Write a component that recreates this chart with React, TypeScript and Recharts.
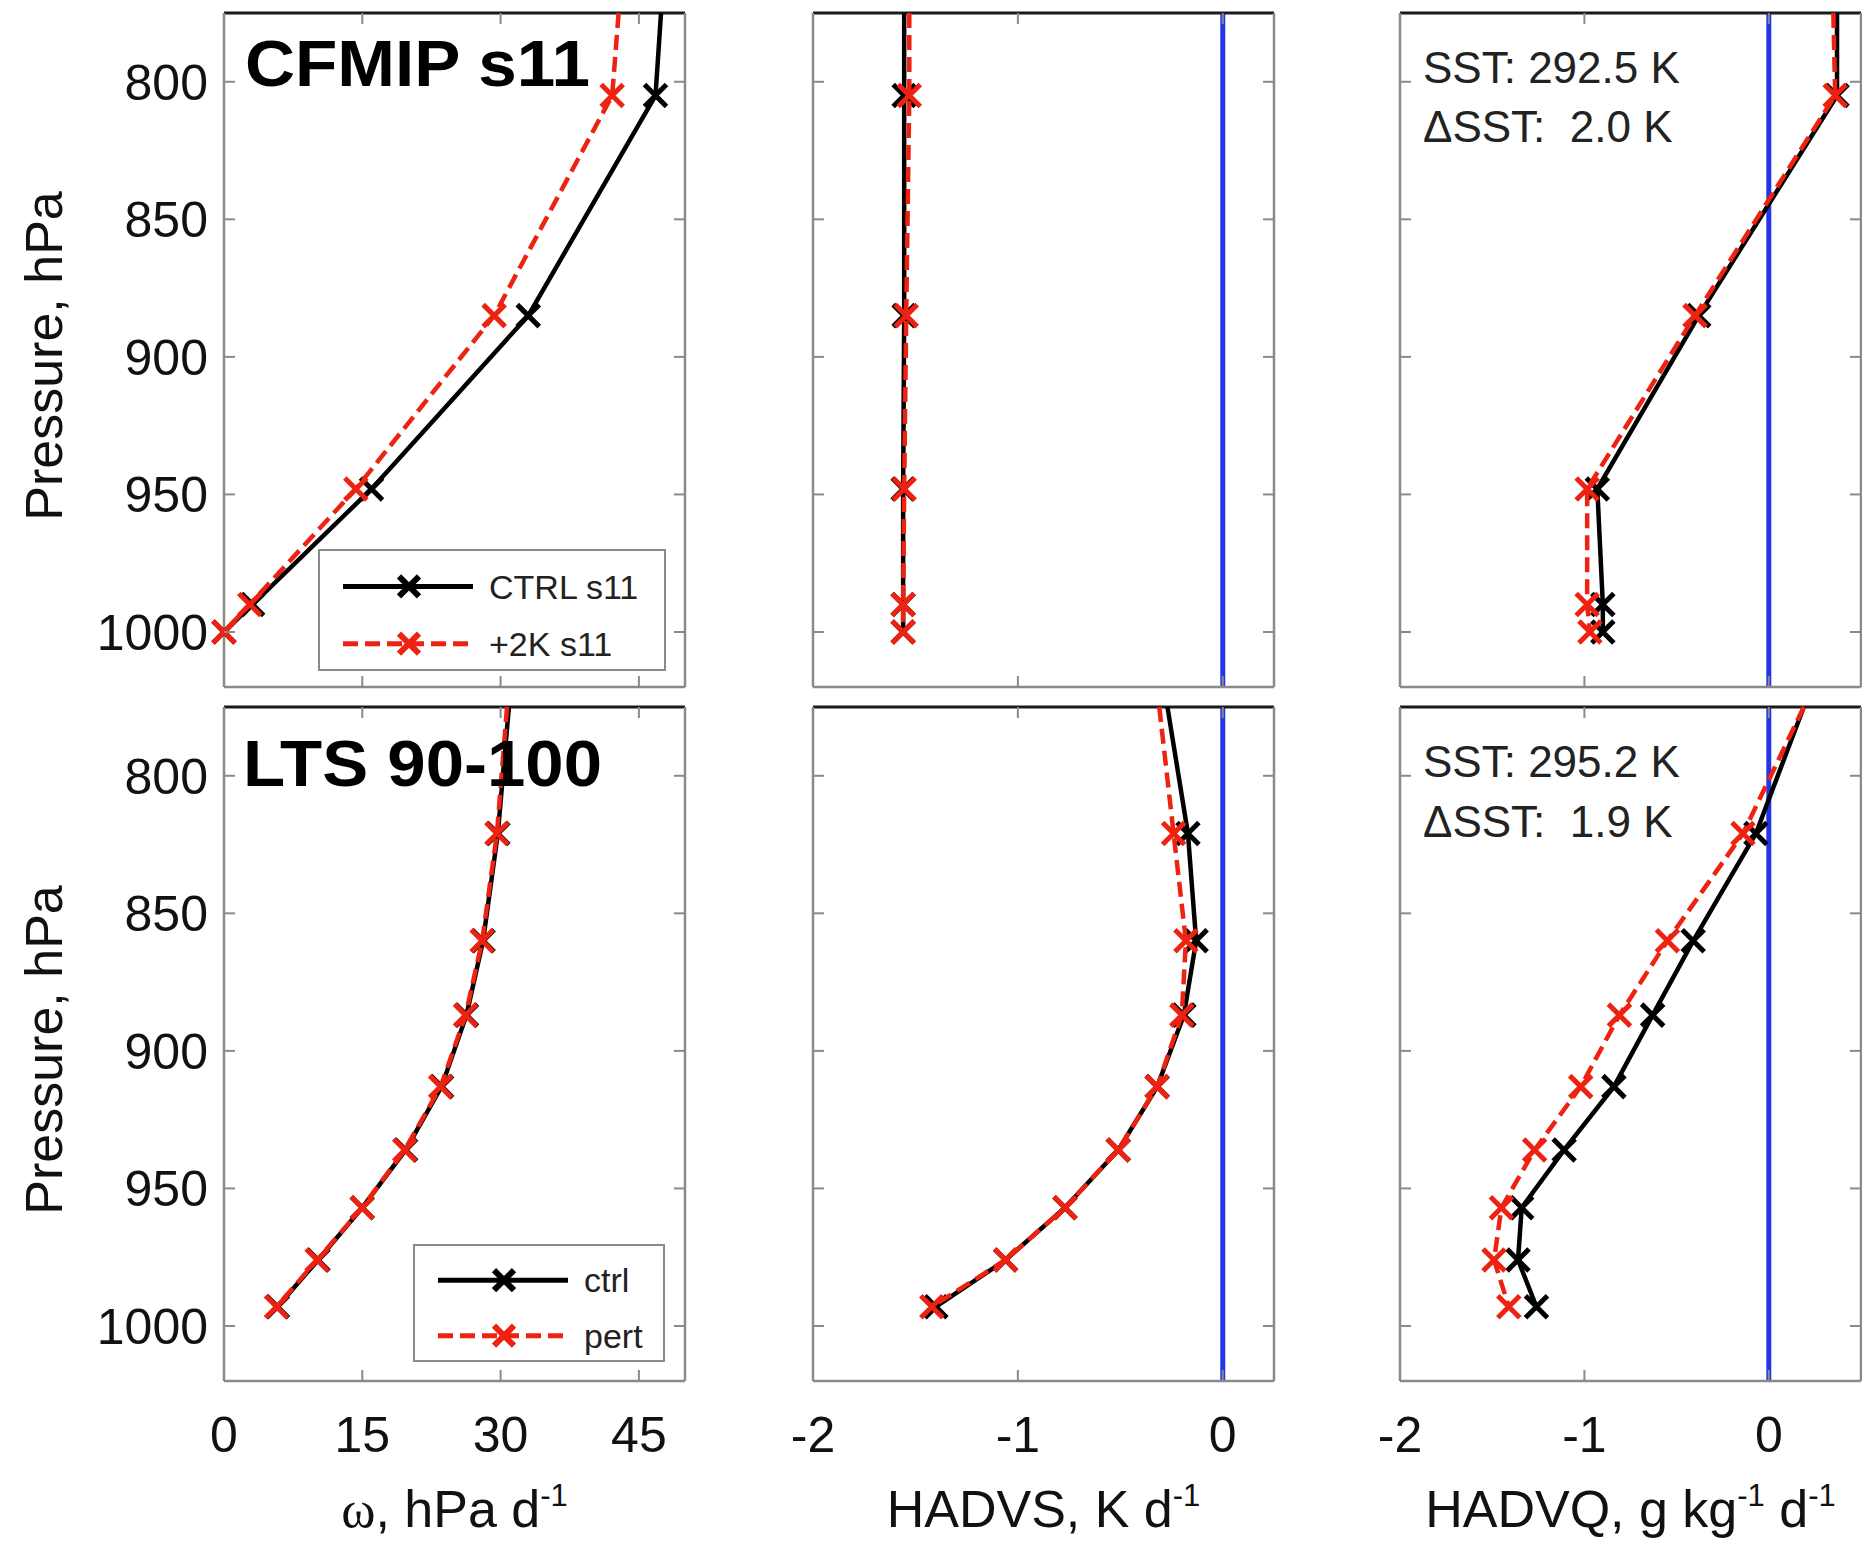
import React from "react";
import { ScatterChart, Scatter, XAxis, YAxis, ReferenceLine, Legend } from "recharts";

/* ── pressure axis (shared by all panels) ── */
const PRESSURE_DOMAIN: [number, number] = [775, 1020];
const PRESSURE_TICKS = [800, 850, 900, 950, 1000];

const OMEGA_DOMAIN: [number, number] = [0, 50];
const OMEGA_TICKS = [0, 15, 30, 45];
const HADVS_DOMAIN: [number, number] = [-2, 0.25];
const HADVQ_DOMAIN: [number, number] = [-2, 0.5];
const TEND_TICKS = [-2, -1, 0];

/* ── CFMIP s11 (top row); first level is where the line leaves the frame ── */
const S11_LEVELS = [775, 805, 885, 948, 990, 1000];
const S11_OMEGA_CTRL = [47.4, 46.8, 33.0, 16.0, 3.1, 0.0];
const S11_OMEGA_PERT = [42.8, 42.1, 29.3, 14.3, 2.8, 0.0];
const S11_HADVS_CTRL = [-1.555, -1.555, -1.555, -1.56, -1.56, -1.56];
const S11_HADVS_PERT = [-1.53, -1.53, -1.545, -1.555, -1.56, -1.56];
const S11_HADVQ_CTRL = [0.37, 0.37, -0.38, -0.93, -0.9, -0.9];
const S11_HADVQ_PERT = [0.35, 0.36, -0.4, -0.985, -0.985, -0.97];

/* ── LTS 90-100 (bottom row) ── */
const LTS_LEVELS = [775, 821, 860, 887, 913, 936, 957, 976, 993];
const LTS_OMEGA_CTRL = [30.9, 29.7, 28.1, 26.3, 23.6, 19.7, 15.0, 10.2, 5.8];
const LTS_OMEGA_PERT = [30.7, 29.6, 28.0, 26.2, 23.5, 19.6, 15.0, 10.1, 5.7];
const LTS_HADVS_CTRL = [-0.27, -0.17, -0.13, -0.19, -0.32, -0.51, -0.77, -1.06, -1.4];
const LTS_HADVS_PERT = [-0.31, -0.24, -0.18, -0.2, -0.32, -0.51, -0.77, -1.06, -1.42];
const LTS_HADVQ_CTRL = [0.19, -0.07, -0.41, -0.63, -0.84, -1.11, -1.34, -1.36, -1.26];
const LTS_HADVQ_PERT = [0.19, -0.14, -0.55, -0.81, -1.02, -1.27, -1.45, -1.49, -1.41];

const S11_NAMES = ["CTRL s11", "+2K s11"];
const LTS_NAMES = ["ctrl", "pert"];

/* ── style ── */
const FONT = '"Liberation Sans", Arial, Helvetica, sans-serif';
const SERIF = '"Liberation Serif", "Times New Roman", serif';
const FRAME = "#8a8a8a";
const CTRL_COLOR = "#000000";
const PERT_COLOR = "#ee2211";
const ZERO_COLOR = "#2435e6";
const DASH = "15 7";
const TICK_LEN = 11;

const Y_AXIS_W = 224;
const PLOT_W = 461;
const PLOT_H = 674;
const PAD = 10;
const CHART_W = Y_AXIS_W + PLOT_W + PAD;
const COL_LEFT = [0, 588.5, 1176.4];
const ROW_TOP = [3, 697];

type TitlePart = [string, "" | "sup" | "serif"];
const OMEGA_TITLE: TitlePart[] = [["ω", "serif"], [", hPa d", ""], ["-1", "sup"]];
const HADVS_TITLE: TitlePart[] = [["HADVS, K d", ""], ["-1", "sup"]];
const HADVQ_TITLE: TitlePart[] = [["HADVQ, g kg", ""], ["-1", "sup"], [" d", ""], ["-1", "sup"]];

type Pt = { v: number; p: number };
const toPoints = (levels: number[], vals: number[]): Pt[] =>
  levels.map((p, i) => ({ v: vals[i], p }));

/* ── ticks: inward tick marks, labels outside ── */
function LeftTick(props: any) {
  const { x = 0, y = 0, payload, label } = props;
  return (
    <g>
      <line x1={x} y1={y} x2={x + TICK_LEN} y2={y} stroke={FRAME} strokeWidth={2} />
      {label && (
        <text x={x - 16} y={y} dy="0.36em" textAnchor="end" fontSize={50} fill="#111" fontFamily={FONT}>
          {payload?.value}
        </text>
      )}
    </g>
  );
}

function RightTick(props: any) {
  const { x = 0, y = 0 } = props;
  return <line x1={x - TICK_LEN} y1={y} x2={x} y2={y} stroke={FRAME} strokeWidth={2} />;
}

function TopTick(props: any) {
  const { x = 0, y = 0 } = props;
  return <line x1={x} y1={y} x2={x} y2={y + TICK_LEN} stroke={FRAME} strokeWidth={2} />;
}

function BottomTick(props: any) {
  const { x = 0, y = 0, payload, label } = props;
  return (
    <g>
      <line x1={x} y1={y - TICK_LEN} x2={x} y2={y} stroke={FRAME} strokeWidth={2} />
      {label && (
        <text x={x} y={y + 71} textAnchor="middle" fontSize={50} fill="#111" fontFamily={FONT}>
          {payload?.value}
        </text>
      )}
    </g>
  );
}

function XTitle({ viewBox, parts }: { viewBox?: any; parts: TitlePart[] }) {
  if (!viewBox) return null;
  const { x, y, width } = viewBox;
  return (
    <text x={x + width / 2} y={y + 146} textAnchor="middle" fontSize={52} fill="#111" fontFamily={FONT}>
      {parts.map(([t, kind], i) => {
        const prevSup = i > 0 && parts[i - 1][1] === "sup";
        if (kind === "sup")
          return (
            <tspan key={i} fontSize={31} dy={-21}>
              {t}
            </tspan>
          );
        return (
          <tspan key={i} dy={prevSup ? 21 : 0} fontFamily={kind === "serif" ? SERIF : FONT}>
            {t}
          </tspan>
        );
      })}
    </text>
  );
}

function YTitle({ viewBox }: { viewBox?: any }) {
  if (!viewBox) return null;
  const cx = viewBox.x + 62;
  const cy = viewBox.y + viewBox.height / 2 + 6;
  return (
    <text x={cx} y={cy} transform={`rotate(-90, ${cx}, ${cy})`} textAnchor="middle" fontSize={52} fill="#111" fontFamily={FONT}>
      Pressure, hPa
    </text>
  );
}

/* ── 'x' marker, hidden on the frame-exit point ── */
function xMarker(color: string) {
  return (props: any) => {
    const { cx, cy, payload } = props;
    if (payload == null || payload.p <= PRESSURE_DOMAIN[0]) return <g />;
    const h = 11;
    return (
      <path
        d={`M${cx - h},${cy - h}L${cx + h},${cy + h}M${cx - h},${cy + h}L${cx + h},${cy - h}`}
        stroke={color}
        strokeWidth={5}
        fill="none"
      />
    );
  };
}

/* ── legend box ── */
function LegendBox({ names, width, height }: { names: string[]; width: number; height: number }) {
  const rows = [
    { name: names[0], color: CTRL_COLOR, dash: undefined as string | undefined, y: height * 0.29 },
    { name: names[1], color: PERT_COLOR, dash: DASH, y: height * 0.76 },
  ];
  return (
    <div style={{ width, height, border: `2px solid ${FRAME}`, boxSizing: "border-box", background: "#fff" }}>
      <svg width={width - 4} height={height - 4} style={{ display: "block" }}>
        {rows.map((r) => (
          <g key={r.name}>
            <line x1={23} x2={153} y1={r.y} y2={r.y} stroke={r.color} strokeWidth={5} strokeDasharray={r.dash} />
            <path
              d={`M${79},${r.y - 10}L${99},${r.y + 10}M${79},${r.y + 10}L${99},${r.y - 10}`}
              stroke={r.color}
              strokeWidth={6}
            />
            <text x={169} y={r.y} dy="0.36em" fontSize={34} fill="#222" fontFamily={FONT}>
              {r.name}
            </text>
          </g>
        ))}
      </svg>
    </div>
  );
}

interface PanelProps {
  col: number;
  row: number;
  levels: number[];
  ctrl: number[];
  pert: number[];
  names: string[];
  xDomain: [number, number];
  xTicks: number[];
  title: TitlePart[];
  legend?: { left: number; top: number; width: number; height: number };
}

function Panel({ col, row, levels, ctrl, pert, names, xDomain, xTicks, title, legend }: PanelProps) {
  const ctrlPts = toPoints(levels, ctrl);
  const pertPts = toPoints(levels, pert);
  const bottomH = row === 1 ? 170 : PAD;
  const height = PAD + PLOT_H + bottomH;
  const showX = row === 1;
  const showY = col === 0;

  return (
    <div style={{ position: "absolute", left: COL_LEFT[col], top: ROW_TOP[row] }}>
      <ScatterChart width={CHART_W} height={height} margin={{ top: 0, right: 0, bottom: 0, left: 0 }} data={ctrlPts}>
        <XAxis
          xAxisId="b"
          type="number"
          dataKey="v"
          orientation="bottom"
          domain={xDomain}
          ticks={xTicks}
          interval={0}
          height={bottomH}
          tickSize={0}
          tickMargin={0}
          tickLine={false}
          axisLine={{ stroke: FRAME, strokeWidth: 2.5 }}
          tick={(p: any) => <BottomTick {...p} label={showX} />}
          label={showX ? <XTitle parts={title} /> : undefined}
        />
        <XAxis
          xAxisId="t"
          type="number"
          dataKey="v"
          orientation="top"
          domain={xDomain}
          ticks={xTicks}
          interval={0}
          height={PAD}
          tickSize={0}
          tickMargin={0}
          tickLine={false}
          axisLine={{ stroke: "#1a1a1a", strokeWidth: 3 }}
          tick={(p: any) => <TopTick {...p} />}
        />
        <YAxis
          yAxisId="l"
          type="number"
          dataKey="p"
          orientation="left"
          domain={PRESSURE_DOMAIN}
          reversed
          ticks={PRESSURE_TICKS}
          interval={0}
          width={Y_AXIS_W}
          tickSize={0}
          tickMargin={0}
          tickLine={false}
          axisLine={{ stroke: FRAME, strokeWidth: 2.5 }}
          tick={(p: any) => <LeftTick {...p} label={showY} />}
          label={showY ? <YTitle /> : undefined}
        />
        <YAxis
          yAxisId="r"
          type="number"
          dataKey="p"
          orientation="right"
          domain={PRESSURE_DOMAIN}
          reversed
          ticks={PRESSURE_TICKS}
          interval={0}
          width={PAD}
          tickSize={0}
          tickMargin={0}
          tickLine={false}
          axisLine={{ stroke: FRAME, strokeWidth: 2.5 }}
          tick={(p: any) => <RightTick {...p} />}
        />
        <Scatter
          name={names[0]}
          data={ctrlPts}
          xAxisId="b"
          yAxisId="l"
          fill={CTRL_COLOR}
          line={{ stroke: CTRL_COLOR, strokeWidth: 4.5 }}
          lineJointType="linear"
          shape={xMarker(CTRL_COLOR)}
          isAnimationActive={false}
        />
        <Scatter
          name={names[1]}
          data={pertPts}
          xAxisId="b"
          yAxisId="l"
          fill={PERT_COLOR}
          line={{ stroke: PERT_COLOR, strokeWidth: 4.5, strokeDasharray: DASH }}
          lineJointType="linear"
          shape={xMarker(PERT_COLOR)}
          isAnimationActive={false}
        />
        {col > 0 && <ReferenceLine x={0} xAxisId="b" yAxisId="l" stroke={ZERO_COLOR} strokeWidth={5} />}
        {legend && (
          <Legend
            layout="vertical"
            align="center"
            verticalAlign="middle"
            wrapperStyle={{ left: legend.left, top: legend.top, width: legend.width, height: legend.height }}
            content={() => <LegendBox names={names} width={legend.width} height={legend.height} />}
          />
        )}
      </ScatterChart>
    </div>
  );
}

const PRE = { whiteSpace: "pre" as const };

export default function App() {
  return (
    <div
      style={{
        position: "absolute",
        left: 0,
        top: 0,
        width: 1862,
        height: 1542,
        overflow: "hidden",
        background: "#fff",
        fontFamily: FONT,
      }}
    >
      <Panel col={0} row={0} levels={S11_LEVELS} ctrl={S11_OMEGA_CTRL} pert={S11_OMEGA_PERT} names={S11_NAMES}
        xDomain={OMEGA_DOMAIN} xTicks={OMEGA_TICKS} title={OMEGA_TITLE}
        legend={{ left: 318, top: 546, width: 348, height: 122 }} />
      <Panel col={1} row={0} levels={S11_LEVELS} ctrl={S11_HADVS_CTRL} pert={S11_HADVS_PERT} names={S11_NAMES}
        xDomain={HADVS_DOMAIN} xTicks={TEND_TICKS} title={HADVS_TITLE} />
      <Panel col={2} row={0} levels={S11_LEVELS} ctrl={S11_HADVQ_CTRL} pert={S11_HADVQ_PERT} names={S11_NAMES}
        xDomain={HADVQ_DOMAIN} xTicks={TEND_TICKS} title={HADVQ_TITLE} />
      <Panel col={0} row={1} levels={LTS_LEVELS} ctrl={LTS_OMEGA_CTRL} pert={LTS_OMEGA_PERT} names={LTS_NAMES}
        xDomain={OMEGA_DOMAIN} xTicks={OMEGA_TICKS} title={OMEGA_TITLE}
        legend={{ left: 413, top: 547, width: 252, height: 118 }} />
      <Panel col={1} row={1} levels={LTS_LEVELS} ctrl={LTS_HADVS_CTRL} pert={LTS_HADVS_PERT} names={LTS_NAMES}
        xDomain={HADVS_DOMAIN} xTicks={TEND_TICKS} title={HADVS_TITLE} />
      <Panel col={2} row={1} levels={LTS_LEVELS} ctrl={LTS_HADVQ_CTRL} pert={LTS_HADVQ_PERT} names={LTS_NAMES}
        xDomain={HADVQ_DOMAIN} xTicks={TEND_TICKS} title={HADVQ_TITLE} />

      {/* panel annotations */}
      <svg width={1862} height={1542} style={{ position: "absolute", left: 0, top: 0, pointerEvents: "none" }}>
        <text x={245} y={86} fontSize={64} fontWeight="bold" fill="#000" fontFamily={FONT}
          textLength={345} lengthAdjust="spacingAndGlyphs">CFMIP s11</text>
        <text x={243} y={786} fontSize={64} fontWeight="bold" fill="#000" fontFamily={FONT}
          textLength={359} lengthAdjust="spacingAndGlyphs">LTS 90-100</text>
        <g fontSize={44} fill="#222" fontFamily={FONT}>
          <text x={1423} y={83} xmlSpace="preserve" style={PRE}>SST: 292.5 K</text>
          <text x={1423} y={142} xmlSpace="preserve" style={PRE}>{"ΔSST:  2.0 K"}</text>
          <text x={1423} y={777} xmlSpace="preserve" style={PRE}>SST: 295.2 K</text>
          <text x={1423} y={837} xmlSpace="preserve" style={PRE}>{"ΔSST:  1.9 K"}</text>
        </g>
      </svg>
    </div>
  );
}
